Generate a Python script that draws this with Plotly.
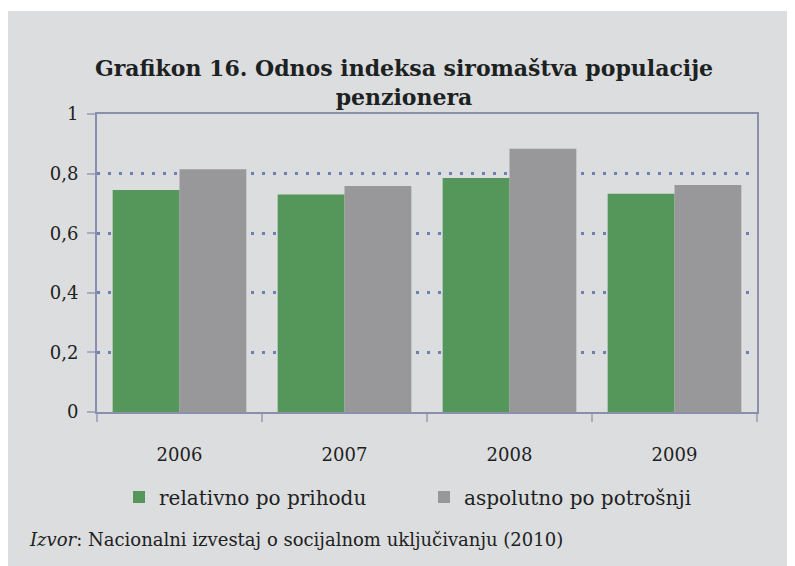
import plotly.graph_objects as go

years = ["2006", "2007", "2008", "2009"]
relativno = [0.745, 0.730, 0.785, 0.732]
aspolutno = [0.815, 0.758, 0.883, 0.762]
series_names = ["relativno po prihodu", "aspolutno po potrošnji"]
y_tickvals = [0, 0.2, 0.4, 0.6, 0.8, 1]
y_ticktext = ["0", "0,2", "0,4", "0,6", "0,8", "1"]
title_text = "<b>Grafikon 16. Odnos indeksa siromaštva populacije<br>penzionera</b>"
source_text = "<i>Izvor</i>: Nacionalni izvestaj o socijalnom uključivanju (2010)"

BG = "#DCDDDF"
FONT = "DejaVu Serif"
TXT = "#1C2222"

fig = go.Figure()
fig.add_trace(go.Bar(x=years, y=relativno, name=series_names[0],
                     marker=dict(color="#55965A", line=dict(width=0))))
fig.add_trace(go.Bar(x=years, y=aspolutno, name=series_names[1],
                     marker=dict(color="#98989A", line=dict(width=0))))

# figure is placed by the page with an 8px body margin
W, H = 787, 558
L, R, T, B = 89, 38, 106, 154
pw, ph = W - L - R, H - T - B

def px_x(p):
    return (p - L) / pw

def px_y(p):
    return (H - B - p) / ph

fig.update_layout(
    width=W, height=H,
    margin=dict(l=L, r=R, t=T, b=B, autoexpand=False),
    paper_bgcolor=BG, plot_bgcolor=BG,
    barmode="group", bargap=0.19, bargroupgap=0,
    font=dict(family=FONT, size=18, color=TXT),
    title=dict(text=title_text, x=(404 - 8) / W, xanchor="center", xref="container",
               y=1 - 68 / H, yanchor="middle", yref="container",
               font=dict(family=FONT, size=22, color=TXT)),
    showlegend=True,
    legend=dict(orientation="h", x=px_x(111), xanchor="left", xref="paper",
                y=px_y(489), yanchor="middle", yref="paper",
                font=dict(family=FONT, size=20, color=TXT),
                bgcolor="rgba(0,0,0,0)", entrywidth=260, entrywidthmode="pixels",
                traceorder="normal"),
    xaxis=dict(showline=True, linecolor="#8A8FAE", linewidth=2, mirror=True,
               ticks="outside", tickson="boundaries", ticklen=8, tickcolor="#A9ABC0",
               tickwidth=2, ticklabelstandoff=25, showgrid=False,
               tickfont=dict(family=FONT, size=18, color=TXT)),
    yaxis=dict(range=[0, 1], tickvals=y_tickvals, ticktext=y_ticktext,
               showline=True, linecolor="#8A8FAE", linewidth=2, mirror=True,
               ticks="outside", ticklen=8, tickcolor="#A9ABC0", tickwidth=2,
               ticklabelstandoff=5,
               showgrid=True, gridcolor="#6B80B5", gridwidth=3, griddash="3px,8px",
               zeroline=False,
               tickfont=dict(family=FONT, size=18, color=TXT)),
    shapes=[
        dict(type="rect", xref="paper", yref="paper", x0=px_x(0), x1=px_x(W),
             y0=px_y(3), y1=px_y(0), fillcolor="white", line=dict(width=0), layer="above"),
    ],
    annotations=[
        dict(text=source_text, xref="paper", yref="paper", x=px_x(19), y=px_y(531),
             xanchor="left", yanchor="middle", showarrow=False,
             font=dict(family=FONT, size=18, color=TXT)),
    ],
)

fig.write_html("out.html")
